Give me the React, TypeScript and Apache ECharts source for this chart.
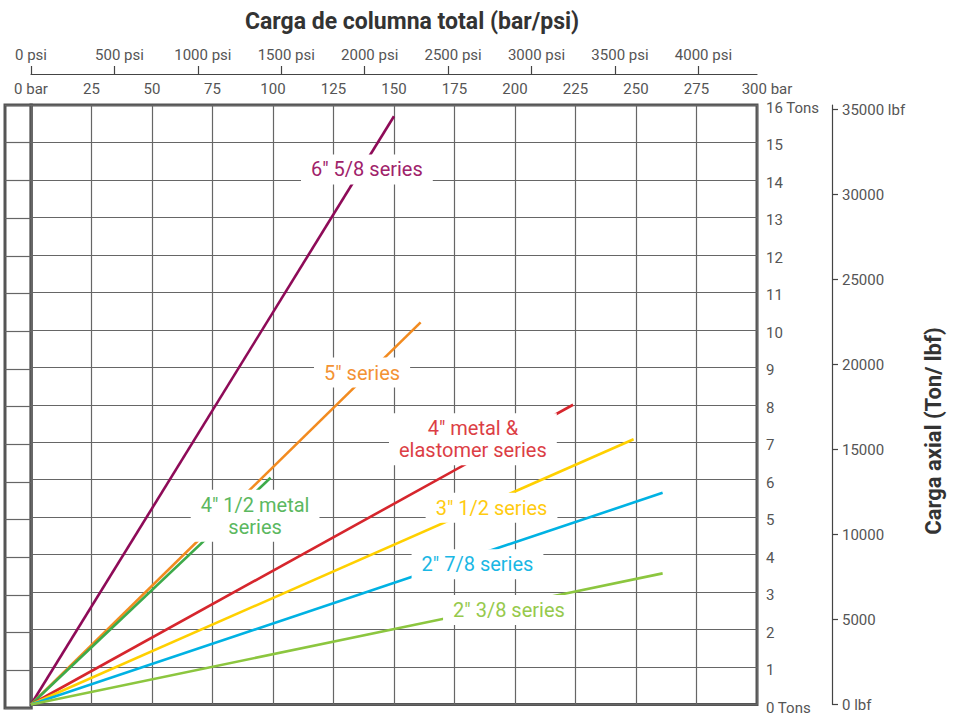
import React, { useEffect, useRef } from "react";
import * as echarts from "echarts";

// ---- Data ----
const seriesNames = [
  '6" 5/8 series',
  '5" series',
  '4" 1/2 metal series',
  '4" metal & elastomer series',
  '3" 1/2 series',
  '2" 7/8 series',
  '2" 3/8 series',
];
const labelTexts = [
  '6" 5/8 series',
  '5" series',
  '4" 1/2 metal\nseries',
  '4" metal &\nelastomer series',
  '3" 1/2 series',
  '2" 7/8 series',
  '2" 3/8 series',
];
// end point of each straight line (start is 0 bar, 0 tons)
const endBar = [150, 161, 99, 224, 249, 261, 261];
const endTons = [15.7, 10.2, 6.05, 8.0, 7.08, 5.65, 3.5];
// where each series label sits (data units)
const labelBar = [138.8, 136.8, 92.6, 182.6, 190.3, 184.5, 197.5];
const labelTons = [14.28, 8.86, 5.04, 7.08, 5.25, 3.74, 2.52];

const lineColors = ["#8E0B58", "#F28B20", "#3DAA4A", "#D6262D", "#FFD000", "#00B2E3", "#8CC63F"];
const labelColors = ["#A0226A", "#F39234", "#5BB85F", "#DC3E45", "#FFCB10", "#1AB7E4", "#96C94C"];

const barMax = 300;
const barInterval = 25;
const tonsMax = 16;
const psiTicks = [0, 500, 1000, 1500, 2000, 2500, 3000, 3500, 4000];
const lbfTicks = [0, 5000, 10000, 15000, 20000, 25000, 30000, 35000];
const BAR_TO_PSI = 14.5038;
const TON_TO_LBF = 2204.62;

const FONT = "Roboto, 'Noto Sans', sans-serif";
const GRID_COLOR = "#666666";
const TICK_TEXT = "#555555";

export default function App() {
  const ref = useRef<HTMLDivElement>(null);

  useEffect(() => {
    if (!ref.current) return;
    const chart = echarts.init(ref.current, undefined, { renderer: "svg" });

    const lineSeries = seriesNames.map((name, i) => ({
      name,
      type: "line",
      xAxisIndex: 0,
      yAxisIndex: 0,
      data: [
        [0, 0],
        [endBar[i], endTons[i]],
      ],
      symbol: "none",
      lineStyle: { color: lineColors[i], width: 2.6 },
      z: 3,
      silent: true,
    }));

    const labelSeries = {
      type: "scatter",
      xAxisIndex: 0,
      yAxisIndex: 0,
      symbolSize: 0,
      z: 10,
      silent: true,
      itemStyle: { opacity: 1 },
      data: labelTexts.map((t, i) => ({
        name: t,
        value: [labelBar[i], labelTons[i]],
        label: { color: labelColors[i] },
      })),
      label: {
        show: true,
        position: "inside",
        formatter: (p: any) => p.name,
        backgroundColor: "#ffffff",
        opacity: 1,
        padding: [4, 10, 4, 10],
        fontFamily: FONT,
        fontSize: 20,
        lineHeight: 22,
        align: "center",
        verticalAlign: "middle",
      },
    };

    const option: any = {
      animation: false,
      title: {
        text: "Carga de columna total (bar/psi)",
        left: 240,
        top: 5,
        textStyle: { fontFamily: FONT, fontSize: 23, fontWeight: "bold", color: "#333" },
      },
      graphic: [
        {
          type: "text",
          x: 933,
          y: 431,
          rotation: Math.PI / 2,
          style: {
            text: "Carga axial (Ton/ lbf)",
            fontFamily: FONT,
            fontSize: 22,
            fontWeight: "bold",
            fill: "#333",
            align: "center",
            verticalAlign: "middle",
          },
        },
      ],
      grid: [
        {
          left: 31,
          top: 105,
          width: 726,
          height: 603,
          show: true,
          borderColor: "#555",
          borderWidth: 3,
          backgroundColor: "transparent",
        },
        {
          left: -100,
          top: 105,
          width: 105,
          height: 603,
          show: true,
          borderColor: "#555",
          borderWidth: 3,
        },
      ],
      xAxis: [
        {
          type: "value",
          gridIndex: 0,
          position: "top",
          min: 0,
          max: barMax,
          interval: barInterval,
          axisLine: { show: false },
          axisTick: { show: false },
          axisLabel: {
            margin: 9,
            fontFamily: FONT,
            fontSize: 15,
            color: TICK_TEXT,
            formatter: (v: number) => (v === 0 ? "0 bar" : v === barMax ? "{p|300 bar}" : String(v)),
            rich: { p: { fontFamily: FONT, fontSize: 15, color: TICK_TEXT, padding: [0, 0, 0, 20] } },
          },
          splitLine: { show: true, lineStyle: { color: GRID_COLOR, width: 1.2 } },
        },
        {
          type: "value",
          gridIndex: 0,
          position: "top",
          offset: 31,
          min: 0,
          max: barMax * BAR_TO_PSI,
          axisLine: { show: true, onZero: false, lineStyle: { color: "#444", width: 1.2 } },
          axisTick: { show: true, length: 8, customValues: psiTicks, lineStyle: { color: "#444", width: 1.2 } },
          axisLabel: {
            customValues: psiTicks,
            margin: 12,
            fontFamily: FONT,
            fontSize: 15,
            color: TICK_TEXT,
            formatter: (v: number) => (v === 0 ? "0 psi" : "{p|" + v + " psi}"),
            rich: { p: { fontFamily: FONT, fontSize: 15, color: TICK_TEXT, padding: [0, 0, 0, 10] } },
          },
          splitLine: { show: false },
        },
        {
          type: "value",
          gridIndex: 1,
          min: 0,
          max: 1,
          show: false,
        },
      ],
      yAxis: [
        {
          type: "value",
          gridIndex: 0,
          position: "right",
          min: 0,
          max: tonsMax,
          interval: 1,
          axisLine: { show: false },
          axisTick: { show: false },
          axisLabel: {
            margin: 9,
            fontFamily: FONT,
            fontSize: 15,
            color: TICK_TEXT,
            formatter: (v: number) => "{a|" + (v === 0 || v === tonsMax ? v + " Tons" : String(v)) + "}",
            rich: { a: { fontFamily: FONT, fontSize: 15, color: TICK_TEXT, padding: [6, 0, 0, 0] } },
          },
          splitLine: { show: true, lineStyle: { color: GRID_COLOR, width: 1.2 } },
        },
        {
          type: "value",
          gridIndex: 0,
          position: "right",
          offset: 75,
          min: 0,
          max: tonsMax * TON_TO_LBF,
          axisLine: { show: true, onZero: false, lineStyle: { color: "#444", width: 1.2 } },
          axisTick: { show: true, length: 6, customValues: lbfTicks, lineStyle: { color: "#444", width: 1.2 } },
          axisLabel: {
            customValues: lbfTicks,
            margin: 10,
            fontFamily: FONT,
            fontSize: 15,
            color: TICK_TEXT,
            formatter: (v: number) => (v === 0 || v === 35000 ? v + " lbf" : String(v)),
          },
          splitLine: { show: false },
        },
        {
          type: "value",
          gridIndex: 1,
          min: 0,
          max: tonsMax,
          interval: 1,
          axisLine: { show: false },
          axisTick: { show: false },
          axisLabel: { show: false },
          splitLine: { show: true, lineStyle: { color: GRID_COLOR, width: 1.2 } },
        },
      ],
      series: [...lineSeries, labelSeries],
    };

    chart.setOption(option);
    return () => chart.dispose();
  }, []);

  return (
    <div
      ref={ref}
      style={{ position: "fixed", left: 0, top: 0, width: 967, height: 715, background: "#fff" }}
    />
  );
}
